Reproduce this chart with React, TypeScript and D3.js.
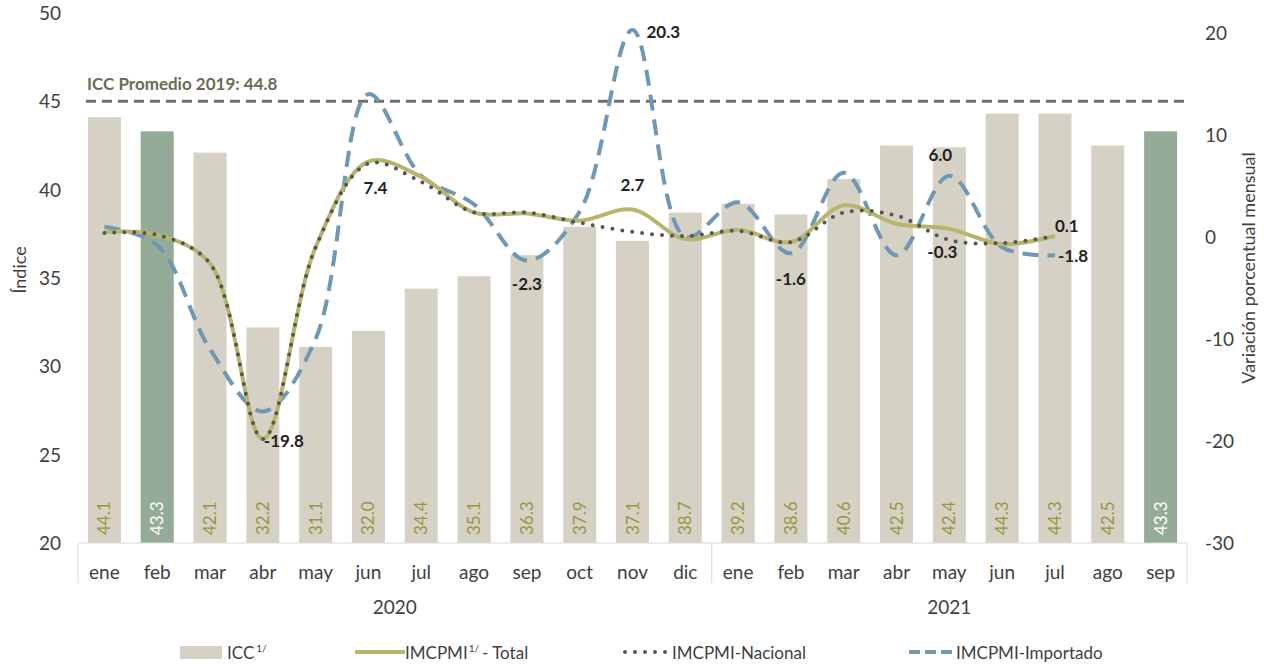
import React from 'react';
import * as d3 from 'd3';

const months2020 = ['ene', 'feb', 'mar', 'abr', 'may', 'jun', 'jul', 'ago', 'sep', 'oct', 'nov', 'dic'];
const months2021 = ['ene', 'feb', 'mar', 'abr', 'may', 'jun', 'jul', 'ago', 'sep'];
const years = ['2020', '2021'];

const iccValues = [44.1, 43.3, 42.1, 32.2, 31.1, 32.0, 34.4, 35.1, 36.3, 37.9, 37.1, 38.7, 39.2, 38.6, 40.6, 42.5, 42.4, 44.3, 44.3, 42.5, 43.3];
const highlightedIdx = [1, 20];

const totalValues = [0.5, 0.2, -2.6, -19.8, -1.0, 7.4, 5.9, 2.4, 2.3, 1.6, 2.7, -0.2, 0.7, -0.5, 3.1, 1.3, 0.8, -0.7, 0.1];
const nacionalValues = [0.4, 0.2, -2.6, -19.8, -1.0, 7.2, 5.4, 2.4, 2.4, 1.4, 0.5, 0.1, 0.6, -0.5, 2.4, 2.1, -0.3, -0.6, 0.1];
const importadoValues = [1.0, -0.8, -11.0, -17.1, -10.0, 14.0, 6.0, 3.2, -2.3, 2.5, 20.3, 0.0, 3.4, -1.6, 6.3, -1.8, 6.0, -1.0, -1.8];

const leftTicks = [20, 25, 30, 35, 40, 45, 50];
const rightTicks = [-30, -20, -10, 0, 10, 20];
const refLineValue = 45;
const refLineLabel = 'ICC Promedio 2019: 44.8';

const pointLabels = [
  { series: 'imp', idx: 10, text: '20.3', dx: 14, dy: 2, anchor: 'start' },
  { series: 'tot', idx: 5, text: '7.4', dx: 7, dy: 26, anchor: 'middle' },
  { series: 'tot', idx: 3, text: '-19.8', dx: 1, dy: 2, anchor: 'start' },
  { series: 'tot', idx: 10, text: '2.7', dx: 0, dy: -24, anchor: 'middle' },
  { series: 'imp', idx: 8, text: '-2.3', dx: 0, dy: 24, anchor: 'middle' },
  { series: 'imp', idx: 13, text: '-1.6', dx: 0, dy: 26, anchor: 'middle' },
  { series: 'imp', idx: 16, text: '6.0', dx: -9, dy: -21, anchor: 'middle' },
  { series: 'nac', idx: 16, text: '-0.3', dx: -7, dy: 12, anchor: 'middle' },
  { series: 'tot', idx: 18, text: '0.1', dx: 0, dy: -10, anchor: 'start' },
  { series: 'imp', idx: 18, text: '-1.8', dx: 3, dy: 1, anchor: 'start' },
];

const categories = [
  ...months2020.map((m) => `2020-${m}`),
  ...months2021.map((m) => `2021-${m}`),
];

const FONT = 'Lato, "Open Sans", sans-serif';
const C_BAR = '#d6d1c5';
const C_BAR_HI = '#94ab97';
const C_BAR_TXT = '#9a9640';
const C_TOTAL = '#b7b46b';
const C_NAC = '#555555';
const C_IMP = '#6e98b4';
const C_AXIS_TXT = '#404040';

export default function App() {
  const W = 1270, H = 664;
  const plotL = 78, plotR = 1187, plotB = 543, plotT = 13;

  const x = d3.scaleBand().domain(categories).range([plotL, plotR]).paddingInner(0.375).paddingOuter(0.1875);
  const yL = d3.scaleLinear().domain([20, 50]).range([plotB, plotT]);
  const yR = d3.scaleLinear().domain([-30, 20]).range([plotB, 33]);
  const cx = (i: number) => (x(categories[i]) as number) + x.bandwidth() / 2;

  const line = d3.line<number>().x((_, i) => cx(i)).y((v) => yR(v)).curve(d3.curveCatmullRom.alpha(0.5));

  const seriesMap: Record<string, number[]> = { tot: totalValues, nac: nacionalValues, imp: importadoValues };

  const sepX = (x(categories[12]) as number) - (x.step() - x.bandwidth()) / 2;
  const year2020Center = (cx(0) + cx(11)) / 2;
  const year2021Center = (cx(12) + cx(20)) / 2;

  return (
    <svg width={W} height={H} style={{ position: 'absolute', left: 0, top: 0, background: '#fff' }} fontFamily={FONT}>
      {iccValues.map((v, i) => {
        const hi = highlightedIdx.includes(i);
        const bx = x(categories[i]) as number;
        return (
          <g key={`b${i}`}>
            <rect x={bx} y={yL(v)} width={x.bandwidth()} height={plotB - yL(v)} fill={hi ? C_BAR_HI : C_BAR} />
            <text
              transform={`translate(${cx(i) + 6},${plotB - 8}) rotate(-90)`}
              fontSize={17}
              fill={hi ? '#ffffff' : C_BAR_TXT}
            >
              {v.toFixed(1)}
            </text>
          </g>
        );
      })}

      <line x1={plotL} x2={plotR} y1={plotB} y2={plotB} stroke="#d9d9d9" strokeWidth={1} />
      {[plotL, sepX, plotR].map((lx, i) => (
        <line key={`sep${i}`} x1={lx} x2={lx} y1={plotB} y2={plotB + 40} stroke="#d9d9d9" strokeWidth={1} />
      ))}
      {categories.map((c, i) => (
        <text key={`m${i}`} x={cx(i)} y={579} textAnchor="middle" fontSize={19} fill={C_AXIS_TXT}>
          {c.split('-')[1]}
        </text>
      ))}
      <text x={year2020Center} y={614} textAnchor="middle" fontSize={19} fill={C_AXIS_TXT}>{years[0]}</text>
      <text x={year2021Center} y={614} textAnchor="middle" fontSize={19} fill={C_AXIS_TXT}>{years[1]}</text>

      {leftTicks.map((t) => (
        <text key={`l${t}`} x={61} y={yL(t) + 7} textAnchor="end" fontSize={19} fill={C_AXIS_TXT}>{t}</text>
      ))}
      <text transform={`translate(26,270) rotate(-90)`} textAnchor="middle" fontSize={18} fill={C_AXIS_TXT}>Índice</text>

      {rightTicks.map((t) => (
        <text key={`r${t}`} x={1205} y={yR(t) + 7} textAnchor="start" fontSize={19} fill={C_AXIS_TXT}>{t}</text>
      ))}
      <text transform={`translate(1255,268) rotate(-90)`} textAnchor="middle" fontSize={18} fill={C_AXIS_TXT}>Variación porcentual mensual</text>

      <line x1={86} x2={1184} y1={yL(refLineValue)} y2={yL(refLineValue)} stroke="#6f6f6f" strokeWidth={3} strokeDasharray="10 6" />
      <text x={87} y={90} fontSize={17} fontWeight={700} fill="#6a6a55">{refLineLabel}</text>

      <path d={line(importadoValues) || ''} fill="none" stroke={C_IMP} strokeWidth={4} strokeDasharray="16 9" />
      <path d={line(totalValues) || ''} fill="none" stroke={C_TOTAL} strokeWidth={4} />
      <path d={line(nacionalValues) || ''} fill="none" stroke={C_NAC} strokeWidth={4} strokeDasharray="0 10" strokeLinecap="round" />

      {pointLabels.map((p, k) => (
        <text
          key={`pl${k}`}
          x={cx(p.idx) + p.dx}
          y={yR(seriesMap[p.series][p.idx]) + p.dy + 6}
          textAnchor={p.anchor as any}
          fontSize={17}
          fontWeight={700}
          fill="#222"
        >
          {p.text}
        </text>
      ))}

      <g fontSize={17} fill={C_AXIS_TXT}>
        <rect x={180} y={646} width={42} height={13} fill={C_BAR} />
        <text x={227} y={659}>ICC<tspan fontSize={10} dy={-7} dx={2}>1/</tspan></text>

        <line x1={355} x2={405} y1={652} y2={652} stroke={C_TOTAL} strokeWidth={4} />
        <text x={405} y={659}>IMCPMI<tspan fontSize={10} dy={-7} dx={1}>1/</tspan><tspan dy={7} dx={3}>- Total</tspan></text>

        <line x1={625} x2={668} y1={652} y2={652} stroke={C_NAC} strokeWidth={4} strokeDasharray="0 10" strokeLinecap="round" />
        <text x={672} y={659}>IMCPMI-Nacional</text>

        <line x1={909} x2={955} y1={652} y2={652} stroke={C_IMP} strokeWidth={4} strokeDasharray="11 5" />
        <text x={956} y={659}>IMCPMI-Importado</text>
      </g>
    </svg>
  );
}
